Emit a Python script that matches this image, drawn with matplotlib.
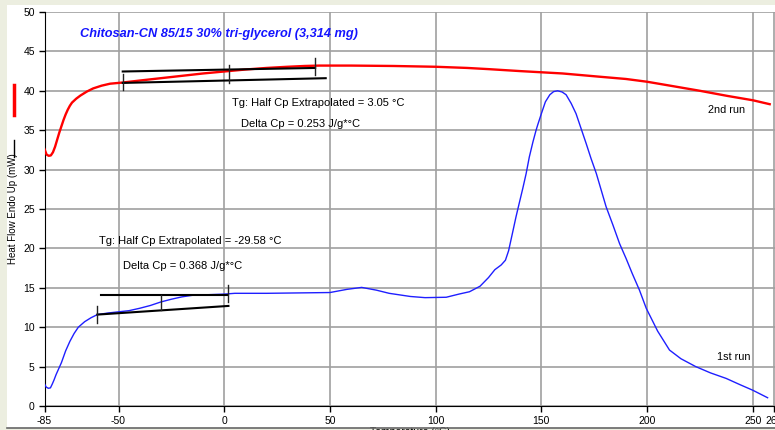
import matplotlib
matplotlib.use('Agg')
import matplotlib.pyplot as plt
from matplotlib.patches import Rectangle
from matplotlib.lines import Line2D

plt.rcParams['font.family'] = ['Liberation Sans', 'DejaVu Sans']
plt.rcParams['axes.unicode_minus'] = False

# 1st run (blue)
run1_temp = [-85, -84.2, -83.2, -82.2, -81.3, -80.5, -79.5, -78, -77, -75, -73, -71, -69, -66,
             -63, -60, -55, -50, -45, -40, -35, -30, -25, -20, -15, -10, -5, 0, 5, 20, 35, 50,
             58, 65, 72, 78, 88, 95, 105, 111, 116, 121, 125, 128, 131, 133, 134.5, 136.3, 138,
             139.5, 141.2, 142.8, 144.3, 146, 147.5, 148.3, 150, 151.9, 154, 155.8, 157.7, 159.8,
             161.7, 164.1, 166.4, 168.8, 171.2, 173.5, 176, 178.3, 180.6, 183.8, 187, 190.1,
             193, 196.4, 199.6, 205, 210.6, 216, 223, 230, 237.4, 244, 250, 257]
run1_hf = [2.8, 2.4, 2.25, 2.3, 2.8, 3.3, 4.0, 4.9, 5.5, 7.0, 8.2, 9.2, 10.0, 10.7,
           11.2, 11.6, 11.8, 11.95, 12.1, 12.4, 12.75, 13.2, 13.55, 13.85, 14.05, 14.1, 14.15,
           14.2, 14.3, 14.3, 14.35, 14.4, 14.8, 15.05, 14.7, 14.3, 13.9, 13.75, 13.8, 14.2,
           14.5, 15.2, 16.3, 17.3, 17.9, 18.5, 19.7, 21.9, 24.0, 25.7, 27.6, 29.5, 31.6, 33.5,
           35.0, 35.7, 37.1, 38.6, 39.5, 39.9, 40.0, 39.85, 39.5, 38.4, 37.1, 35.2, 33.3, 31.4,
           29.5, 27.4, 25.3, 23.0, 20.6, 18.7, 16.8, 14.7, 12.4, 9.5, 7.1, 6.0, 5.0, 4.2, 3.5,
           2.7, 2.0, 1.05]

# 2nd run (red)
run2_temp = [-85, -84, -83, -82, -81, -80, -79, -78, -77, -76, -75, -74, -73, -72, -70, -68,
             -65, -62, -58, -54, -48, -40, -30, -20, -10, 0, 10, 20, 30, 38, 45, 60, 80, 100,
             115, 125, 140, 160, 177, 190, 200, 212, 225, 238, 250, 258]
run2_hf = [32.6, 31.9, 31.75, 31.8, 32.2, 32.9, 33.8, 34.7, 35.5, 36.3, 37.0, 37.6, 38.1,
           38.5, 39.0, 39.4, 39.9, 40.3, 40.65, 40.9, 41.05, 41.3, 41.6, 41.9, 42.2, 42.45,
           42.7, 42.9, 43.05, 43.15, 43.2, 43.2, 43.15, 43.05, 42.9, 42.75, 42.5, 42.2, 41.8,
           41.5, 41.15, 40.6, 40.0, 39.35, 38.8, 38.3]

# tangent construction lines (x pairs, y pairs)
tan2_lines = [([-48, 43], [42.45, 42.9]), ([-48, 48], [41.0, 41.6])]
tan2_ticks = [([-48, -48], [40.1, 42.1]), ([2.4, 2.4], [41.0, 43.3]), ([43, 43], [42.0, 44.2])]
tan1_lines = [([-58.4, 1.6], [14.1, 14.1]), ([-60, 2], [11.6, 12.7])]
tan1_ticks = [([-60, -60], [10.5, 12.7]), ([1.6, 1.6], [13.2, 15.35]), ([-30, -30], [12.2, 14.1])]

xticks = [-85, -50, 0, 50, 100, 150, 200, 250, 260]
yticks = [0, 5, 10, 15, 20, 25, 30, 35, 40, 45, 50]

W, H = 775, 430
fig = plt.figure(figsize=(W / 100, H / 100), dpi=100, facecolor='#ECEEE0')
fig.patches.append(Rectangle((7 / W, 2 / H), 1 - 7 / W, 423 / H, transform=fig.transFigure,
                             facecolor='white', edgecolor='none', zorder=-5))

ax = fig.add_axes([44.5 / W, (H - 406) / H, 1 - 44.5 / W, 394 / H])
ax.set_facecolor('white')

ax.plot(run1_temp, run1_hf, color='#1f1fff', lw=1.0, zorder=3)
ax.plot(run2_temp, run2_hf, color='#ff0000', lw=1.7, zorder=3)

for xs, ys in tan2_lines + tan1_lines:
    ax.plot(xs, ys, color='black', lw=1.5, zorder=4)
for xs, ys in tan2_ticks + tan1_ticks:
    ax.plot(xs, ys, color='#222222', lw=1.0, zorder=4)

ax.set_xlim(-85, 260.5)
ax.set_ylim(0, 50)
ax.set_xticks(xticks)
ax.set_yticks(yticks)
ax.tick_params(labelsize=7.5, direction='out', length=4, width=1, colors='black', pad=3)
ax.grid(True, color='#a0a0a0', lw=1.2)
ax.set_axisbelow(True)
for s in ['top', 'right']:
    ax.spines[s].set_visible(False)
ax.spines['left'].set_color('black')
ax.spines['bottom'].set_color('black')

ax.text(-68, 47.2, 'Chitosan-CN 85/15 30% tri-glycerol (3,314 mg)', color='#1414ff',
        fontsize=9.2, fontweight='bold', fontstyle='italic', va='center')
ax.text(3.5, 38.5, 'Tg: Half Cp Extrapolated = 3.05 \u00b0C', fontsize=8, va='center')
ax.text(8, 35.8, 'Delta Cp = 0.253 J/g*\u00b0C', fontsize=8, va='center')
ax.text(-59, 20.9, 'Tg: Half Cp Extrapolated = -29.58 \u00b0C', fontsize=8, va='center')
ax.text(-48, 17.8, 'Delta Cp = 0.368 J/g*\u00b0C', fontsize=8, va='center')
ax.text(229, 37.5, '2nd run', fontsize=7.8, va='center')
ax.text(233, 6.2, '1st run', fontsize=7.8, va='center')

# y label with line keys
fig.text(13 / W, (H - 209) / H, 'Heat Flow Endo Up (mW)', rotation=90, fontsize=7,
         ha='center', va='center')
fig.lines.append(Line2D([14 / W, 14 / W], [(H - 157) / H, (H - 140) / H],
                        transform=fig.transFigure, color='black', lw=1.0))
fig.lines.append(Line2D([14 / W, 14 / W], [(H - 115) / H, (H - 85) / H],
                        transform=fig.transFigure, color='red', lw=2.5))

fig.text(410 / W, (H - 427) / H, 'Temperature (\u00b0C)', fontsize=7.5, ha='center', va='top')
fig.lines.append(Line2D([7 / W, 1], [2 / H, 2 / H], transform=fig.transFigure,
                        color='#666666', lw=1.2, zorder=10))

fig.savefig('out.png', dpi=100, facecolor=fig.get_facecolor())
